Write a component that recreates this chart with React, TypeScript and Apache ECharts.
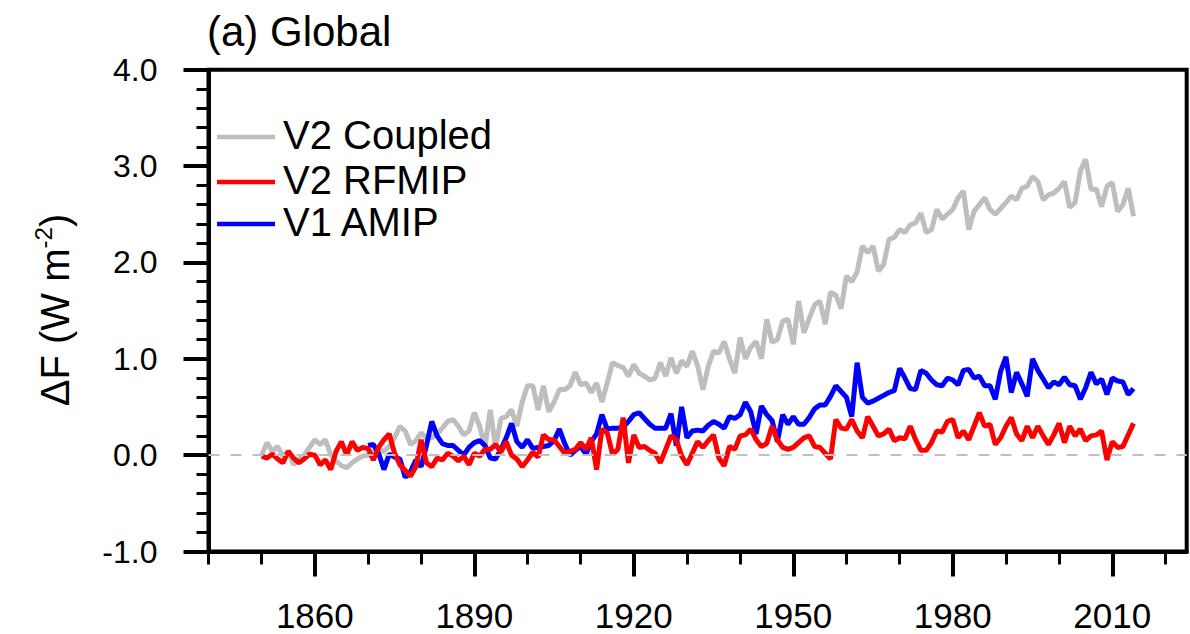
import React, { useEffect, useRef } from "react";
import * as echarts from "echarts";

// ---- data ----
const coupledStart = 1850;
const coupled = [
  0.0, 0.13, 0.04, 0.09, -0.01, 0.04, -0.1, -0.04, 0.0, 0.08,
  0.16, 0.11, 0.16, 0.0, -0.06, -0.11, -0.13, -0.08, -0.04, -0.01,
  0.0, 0.04, 0.06, 0.04, 0.09, 0.18, 0.3, 0.25, 0.11, 0.15,
  0.23, 0.18, 0.18, 0.22, 0.28, 0.35, 0.37, 0.3, 0.21, 0.25,
  0.44, 0.3, 0.08, 0.47, 0.08, 0.38, 0.4, 0.47, 0.3, 0.55,
  0.72, 0.72, 0.47, 0.72, 0.45, 0.55, 0.68, 0.68, 0.72, 0.86,
  0.73, 0.75, 0.65, 0.75, 0.55, 0.75, 0.96, 0.93, 0.91, 0.82,
  0.94, 0.85, 0.82, 0.78, 0.8, 0.96, 0.82, 1.01, 0.85, 0.98,
  0.92, 1.08, 0.93, 0.68, 0.92, 1.08, 1.06, 1.18, 1.0, 0.85,
  1.22, 1.0, 1.12, 1.18, 1.0, 1.41, 1.17, 1.2, 1.39, 1.41,
  1.15, 1.6, 1.27, 1.42, 1.56, 1.6, 1.36, 1.69, 1.66, 1.52,
  1.86, 1.8, 1.9, 2.17, 2.1, 2.17, 1.91, 1.98, 2.24, 2.26,
  2.34, 2.31, 2.39, 2.41, 2.51, 2.31, 2.34, 2.55, 2.45, 2.5,
  2.55, 2.67, 2.74, 2.34, 2.53, 2.6, 2.67, 2.55, 2.5, 2.56,
  2.62, 2.69, 2.65, 2.77, 2.79, 2.89, 2.84, 2.65, 2.7, 2.72,
  2.77, 2.84, 2.57, 2.62, 2.95, 3.07, 2.76, 2.76, 2.58, 2.79,
  2.83, 2.53, 2.6, 2.77, 2.48,
];

const rfmipStart = 1850;
const rfmip = [
  -0.01, -0.03, 0.01, -0.04, -0.08, 0.04, -0.03, -0.08, -0.04, 0.01,
  0.0, -0.1, -0.05, -0.15, 0.04, 0.14, 0.0, 0.14, 0.05, 0.08,
  0.07, -0.05, 0.08, 0.16, 0.22, 0.02, -0.1, -0.16, -0.22, -0.12,
  0.16, -0.08, -0.12, -0.03, -0.05, 0.02, -0.01, -0.06, -0.01, -0.1,
  0.02, -0.01, 0.06, 0.06, 0.11, 0.03, 0.14, 0.0, -0.04, -0.12,
  -0.05, 0.03, -0.02, 0.21, 0.16, 0.16, 0.09, 0.02, 0.04, 0.06,
  0.13, 0.06, 0.18, -0.15, 0.27, 0.23, 0.01, 0.06, 0.39, -0.08,
  0.21, 0.08, 0.09, 0.05, 0.02, -0.08, 0.06, 0.2, 0.16, -0.01,
  -0.1, 0.02, 0.14, 0.08, 0.15, 0.21, -0.03, -0.11, 0.09, 0.06,
  0.2, 0.21, 0.27, 0.16, 0.09, 0.12, 0.3, 0.16, 0.08, 0.06,
  0.08, 0.13, 0.18, 0.2, 0.09, 0.08, 0.02, -0.04, 0.37, 0.28,
  0.27, 0.37, 0.25, 0.18, 0.4, 0.3, 0.2, 0.22, 0.27, 0.15,
  0.18, 0.17, 0.3, 0.16, 0.05, 0.05, 0.13, 0.25, 0.24, 0.35,
  0.37, 0.18, 0.25, 0.16, 0.3, 0.44, 0.3, 0.32, 0.11, 0.18,
  0.3, 0.39, 0.22, 0.15, 0.3, 0.18, 0.3, 0.2, 0.11, 0.21,
  0.33, 0.13, 0.3, 0.2, 0.27, 0.15, 0.2, 0.21, 0.25, -0.05,
  0.14, 0.08, 0.09, 0.21, 0.33,
];

const amipStart = 1870;
const amip = [
  0.1, 0.11, 0.02, -0.15, 0.01, -0.02, -0.04, -0.23, -0.17, -0.05,
  -0.12, 0.1, 0.35, 0.2, 0.12, 0.1, 0.1, 0.05, 0.0, 0.08,
  0.13, 0.15, 0.1, -0.03, -0.04, 0.06, 0.18, 0.33, 0.14, 0.08,
  0.16, 0.07, 0.08, 0.09, 0.1, 0.15, 0.27, 0.12, 0.0, 0.05,
  0.09, 0.01, 0.14, 0.22, 0.42, 0.27, 0.28, 0.28, 0.29, 0.35,
  0.42, 0.44, 0.38, 0.32, 0.28, 0.28, 0.28, 0.43, 0.1, 0.5,
  0.18, 0.25, 0.26, 0.25, 0.31, 0.35, 0.32, 0.28, 0.4, 0.38,
  0.42, 0.55, 0.45, 0.22, 0.51, 0.42, 0.36, 0.14, 0.42, 0.32,
  0.4, 0.32, 0.32, 0.39, 0.48, 0.52, 0.52, 0.61, 0.72, 0.66,
  0.6, 0.4, 0.96, 0.6, 0.54, 0.56, 0.59, 0.62, 0.65, 0.67,
  0.9, 0.8, 0.69, 0.68, 0.88, 0.85, 0.78, 0.73, 0.72, 0.8,
  0.78, 0.73, 0.88, 0.89, 0.8, 0.82, 0.72, 0.72, 0.58, 0.87,
  1.02, 0.65, 0.86, 0.74, 0.61, 1.0, 0.88, 0.79, 0.7, 0.76,
  0.73, 0.81, 0.73, 0.72, 0.58, 0.7, 0.86, 0.74, 0.79, 0.63,
  0.8, 0.77, 0.76, 0.63, 0.69,
];

const seriesNames = ["V2 Coupled", "V2 RFMIP", "V1 AMIP"];
const majorYears = [1860, 1890, 1920, 1950, 1980, 2010];
const minorYears = [1840, 1850, 1860, 1870, 1880, 1890, 1900, 1910, 1920, 1930, 1940, 1950, 1960, 1970, 1980, 1990, 2000, 2010, 2020];
const xMin = 1840;
const xMax = 2024;
const yMin = -1;
const yMax = 4;

const FONT = '"Liberation Sans", Arial, Helvetica, sans-serif';
const GRAY = "#bebebe";
const RED = "#ff0000";
const BLUE = "#0000ff";

const toPairs = (start: number, vals: number[]) => vals.map((v, i) => [start + i, v]);

export default function App() {
  const ref = useRef<HTMLDivElement>(null);

  useEffect(() => {
    if (!ref.current) return;
    const chart = echarts.init(ref.current, undefined, { renderer: "svg" });

    const legendRows = [
      { name: seriesNames[0], color: GRAY, ly: 137, ty: 134.5 },
      { name: seriesNames[1], color: RED, ly: 182, ty: 180 },
      { name: seriesNames[2], color: BLUE, ly: 224, ty: 222 },
    ];

    const graphic: any[] = [
      {
        type: "text",
        x: 207,
        y: 31,
        style: {
          text: "(a) Global",
          fontSize: 42,
          fontFamily: FONT,
          fill: "#000",
          align: "left",
          verticalAlign: "middle",
        },
      },
      {
        type: "text",
        x: 55,
        y: 310,
        rotation: Math.PI / 2,
        style: {
          text: "{a|ΔF (W m}{s|-2}{a|)}",
          fill: "#000",
          align: "center",
          verticalAlign: "middle",
          rich: {
            a: { fontSize: 40, fontFamily: FONT, fill: "#000", lineHeight: 48 },
            s: { fontSize: 24, fontFamily: FONT, fill: "#000", verticalAlign: "top", lineHeight: 24 },
          },
        },
      },
    ];
    legendRows.forEach((r) => {
      graphic.push({
        type: "line",
        shape: { x1: 217, y1: r.ly, x2: 275, y2: r.ly },
        style: { stroke: r.color, lineWidth: 4.5 },
      });
      graphic.push({
        type: "text",
        x: 283,
        y: r.ty,
        style: {
          text: r.name,
          fontSize: 40,
          fontFamily: FONT,
          fill: "#000",
          align: "left",
          verticalAlign: "middle",
        },
      });
    });

    const option: any = {
      animation: false,
      backgroundColor: "#fff",
      grid: {
        left: 208.5,
        right: 3.3,
        top: 69.7,
        bottom: 82.5,
        show: true,
        borderColor: "#000",
        borderWidth: 4,
        backgroundColor: "transparent",
      },
      xAxis: [
        {
          type: "value",
          min: xMin,
          max: xMax,
          position: "bottom",
          axisLine: { show: true, onZero: false, lineStyle: { color: "#000", width: 4 } },
          axisTick: { show: true, customValues: majorYears, length: 25, lineStyle: { color: "#000", width: 4 } },
          axisLabel: {
            show: true,
            customValues: majorYears,
            fontSize: 35,
            lineHeight: 32,
            fontFamily: FONT,
            color: "#000",
            margin: 64,
            verticalAlign: "middle",
            formatter: (v: number) => String(v),
          },
          splitLine: { show: false },
        },
        {
          type: "value",
          min: xMin,
          max: xMax,
          position: "bottom",
          axisLine: { show: false, onZero: false },
          axisTick: { show: true, customValues: minorYears, length: 13, lineStyle: { color: "#000", width: 3 } },
          axisLabel: { show: false },
          splitLine: { show: false },
        },
      ],
      yAxis: {
        type: "value",
        min: yMin,
        max: yMax,
        interval: 1,
        axisLine: { show: true, lineStyle: { color: "#000", width: 4 } },
        axisTick: { show: true, length: 25, lineStyle: { color: "#000", width: 4 } },
        minorTick: { show: true, splitNumber: 5, length: 12, lineStyle: { color: "#000", width: 3 } },
        axisLabel: {
          fontSize: 32,
          fontFamily: FONT,
          color: "#000",
          margin: 51,
          formatter: (v: number) => v.toFixed(1),
        },
        splitLine: { show: false },
      },
      graphic,
      series: [
        {
          name: seriesNames[0],
          type: "line",
          xAxisIndex: 0,
          data: toPairs(coupledStart, coupled),
          symbol: "none",
          z: 2,
          lineStyle: { color: GRAY, width: 5 },
          markLine: {
            silent: true,
            symbol: ["none", "none"],
            label: { show: false },
            lineStyle: { color: "#c0c0c0", type: [11, 11], width: 2 },
            data: [{ yAxis: 0 }],
          },
        },
        {
          name: seriesNames[2],
          type: "line",
          xAxisIndex: 0,
          data: toPairs(amipStart, amip),
          symbol: "none",
          z: 3,
          lineStyle: { color: BLUE, width: 5 },
        },
        {
          name: seriesNames[1],
          type: "line",
          xAxisIndex: 0,
          data: toPairs(rfmipStart, rfmip),
          symbol: "none",
          z: 4,
          lineStyle: { color: RED, width: 5 },
        },
      ],
    };

    chart.setOption(option);
    return () => chart.dispose();
  }, []);

  return (
    <div
      ref={ref}
      style={{ position: "fixed", left: 0, top: 0, width: 1190, height: 634, background: "#fff" }}
    />
  );
}
